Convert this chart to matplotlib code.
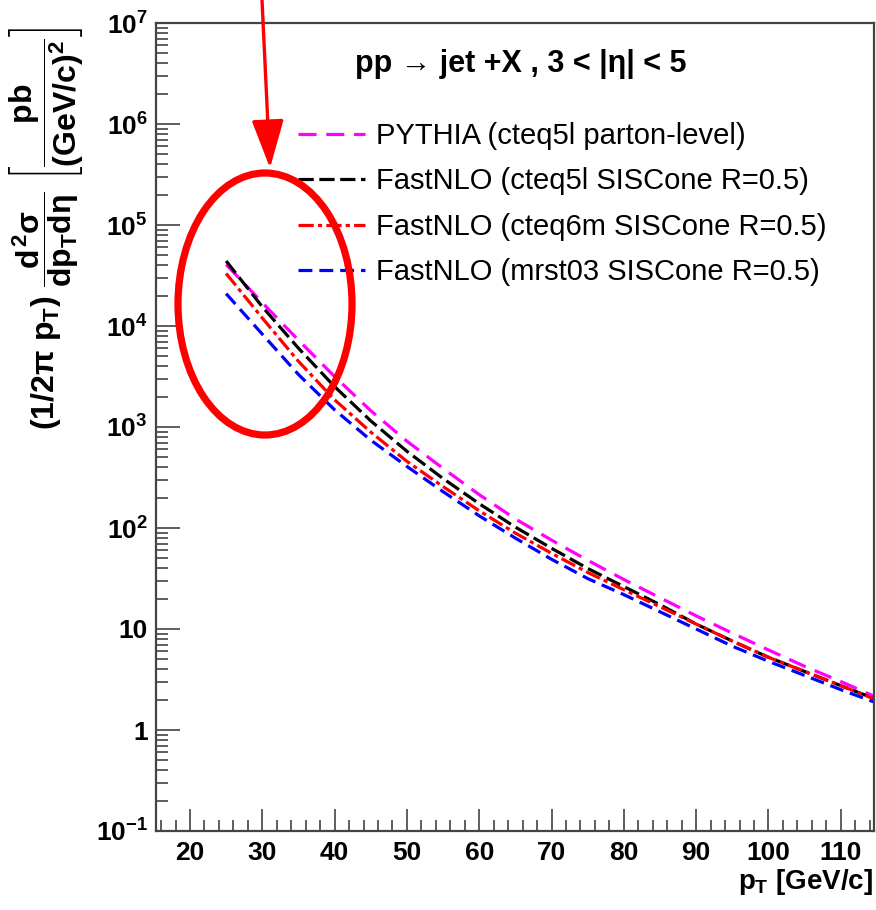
import matplotlib
matplotlib.use("Agg")
import matplotlib.pyplot as plt
from matplotlib.patches import Ellipse
from matplotlib.ticker import FixedLocator, FixedFormatter, LogLocator, MultipleLocator, NullFormatter

plt.rcParams['font.family'] = ['Liberation Sans', 'DejaVu Sans']
plt.rcParams['mathtext.fontset'] = 'custom'
plt.rcParams['mathtext.rm'] = 'Liberation Sans:bold'
plt.rcParams['mathtext.it'] = 'Liberation Sans:bold'
plt.rcParams['mathtext.bf'] = 'Liberation Sans:bold'
plt.rcParams['lines.scale_dashes'] = False

# jet pT bins [GeV/c]
pt = [25, 30, 35, 40, 45, 50, 55, 60, 65, 70, 75, 80, 85, 90, 95, 100, 105, 110, 115]

# (1/2pi pT) d2sigma/dpT deta  [pb/(GeV/c)^2]
pythia_cteq5l = [4.07e4, 1.70e4, 7.24e3, 3.16e3, 1.45e3, 724, 389, 214, 123, 75.9,
                 47.9, 30.9, 20.4, 13.5, 9.1, 6.2, 4.27, 3.02, 2.10]
nlo_cteq5l = [4.40e4, 1.55e4, 6.03e3, 2.51e3, 1.15e3, 575, 309, 174, 102, 63.0,
              39.8, 26.3, 17.4, 11.2, 7.6, 5.25, 3.80, 2.75, 2.00]
nlo_cteq6m = [3.31e4, 1.20e4, 4.47e3, 1.86e3, 891, 457, 257, 148, 89.0, 56.2,
              36.3, 24.5, 16.6, 11.2, 7.6, 5.25, 3.80, 2.75, 1.98]
nlo_mrst03 = [2.09e4, 8.30e3, 3.31e3, 1.48e3, 741, 407, 229, 132, 79.4, 49.0,
              31.6, 21.9, 14.8, 10.0, 6.76, 4.79, 3.47, 2.51, 1.85]

labels = ["PYTHIA (cteq5l parton-level)",
          "FastNLO (cteq5l SISCone R=0.5)",
          "FastNLO (cteq6m SISCone R=0.5)",
          "FastNLO (mrst03 SISCone R=0.5)"]

y_ticks = [1e-1, 1, 10, 1e2, 1e3, 1e4, 1e5, 1e6, 1e7]
y_ticklabels = [r'$10^{-1}$', '1', '10', r'$10^{2}$', r'$10^{3}$', r'$10^{4}$',
                r'$10^{5}$', r'$10^{6}$', r'$10^{7}$']
x_ticks = [20, 30, 40, 50, 60, 70, 80, 90, 100, 110]

fig = plt.figure(figsize=(8.76, 9.10), dpi=100)
ax = fig.add_axes([156 / 876, 1 - 831 / 910, (874 - 156) / 876, (831 - 23) / 910])

ax.plot(pt, pythia_cteq5l, color='#ff00ff', lw=2.3, dashes=(13, 7), label=labels[0])
ax.plot(pt, nlo_cteq5l, color='black', lw=2.3, dashes=(11, 4), label=labels[1])
ax.plot(pt, nlo_cteq6m, color='#ff0000', lw=2.3, dashes=(11, 3, 3, 3), label=labels[2])
ax.plot(pt, nlo_mrst03, color='#0000ff', lw=2.3, dashes=(10, 5), label=labels[3])

ax.set_yscale('log')
ax.set_xlim(15.3, 114.6)
ax.set_ylim(1e-1, 1e7)

ax.yaxis.set_major_locator(FixedLocator(y_ticks))
ax.yaxis.set_major_formatter(FixedFormatter(y_ticklabels))
ax.yaxis.set_minor_locator(LogLocator(base=10, subs=range(2, 10), numticks=20))
ax.yaxis.set_minor_formatter(NullFormatter())
ax.xaxis.set_major_locator(FixedLocator(x_ticks))
ax.xaxis.set_minor_locator(MultipleLocator(2))

ax.tick_params(axis='both', which='both', direction='in', top=False, right=False,
               width=1.1, color='#333333')
ax.tick_params(axis='y', which='major', length=17, pad=6, labelsize=19)
ax.tick_params(axis='y', which='minor', length=8.5)
ax.tick_params(axis='x', which='major', length=16, pad=7, labelsize=19)
ax.tick_params(axis='x', which='minor', length=8)
for lab in ax.get_xticklabels() + ax.get_yticklabels():
    lab.set_fontweight('bold')

for sp in ax.spines.values():
    sp.set_linewidth(1.6)
    sp.set_color('#444444')

leg = ax.legend(loc='upper left', bbox_to_anchor=(0.181, 0.892), frameon=False,
                fontsize=21, handlelength=2.3, handletextpad=0.38,
                labelspacing=0.6, borderaxespad=0)

fig.text(521 / 876, 1 - 64 / 910, "pp \u2192 jet +X , 3 < |\u03b7| < 5",
         ha='center', va='center', fontsize=22, fontweight='bold')

fig.text(47 / 876, 1 - 228 / 910,
         r'$(1/2\pi\ p_T)\ \dfrac{d^2\sigma}{dp_T d\eta}\ \left[\dfrac{pb}{(GeV/c)^2}\right]$',
         rotation=90, ha='center', va='center', fontsize=23)

fig.text(873 / 876, 1 - 882 / 910, r'$p_T$ [GeV/c]', ha='right', va='center',
         fontsize=20, fontweight='bold')

# highlight of the low-pT region
ell = Ellipse((265 / 876, 1 - 304 / 910), 174 / 876, 262 / 910,
              transform=fig.transFigure, fill=False, edgecolor='#ff0000', lw=5.2)
fig.patches.append(ell)
ax.annotate('', xy=(270 / 876, 1 - 168 / 910), xytext=(262 / 876, 1.0),
            xycoords='figure fraction', textcoords='figure fraction',
            arrowprops=dict(arrowstyle='-|>,head_length=1.5,head_width=0.5',
                            mutation_scale=20, color='#ff0000', lw=2.4,
                            shrinkA=0, shrinkB=0))

fig.savefig('out.png', dpi=100)
